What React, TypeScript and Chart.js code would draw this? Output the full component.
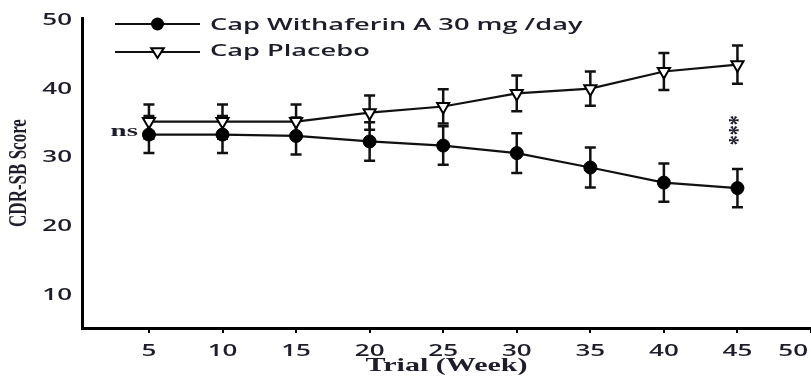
import React, { useEffect, useRef } from 'react';
import { Chart, registerables } from 'chart.js';

Chart.register(...registerables);

// ---- data ----
const weeks = [5, 10, 15, 20, 25, 30, 35, 40, 45];
const withaferin = [33.4, 33.4, 33.2, 32.4, 31.8, 30.7, 28.6, 26.4, 25.6];
const withaferinErr = [2.7, 2.7, 2.7, 2.8, 2.8, 2.9, 2.9, 2.8, 2.8];
const placebo = [35.3, 35.3, 35.3, 36.6, 37.5, 39.4, 40.1, 42.6, 43.6];
const placeboErr = [2.5, 2.5, 2.5, 2.5, 2.5, 2.6, 2.5, 2.7, 2.8];
const xTickValues = [5, 10, 15, 20, 25, 30, 35, 40, 45, 50];
const yTickValues = [10, 20, 30, 40, 50];
const seriesLabels = ['Cap Withaferin A 30 mg /day', 'Cap Placebo'];
const xTitle = 'Trial (Week)';
const yTitle = 'CDR-SB Score';
const nsLabel = 'ns';
const sigLabel = '***';

const TEXT = '#1d1d2b';
const SANS = '"Open Sans", "DejaVu Sans", sans-serif';
const SERIF = '"Liberation Serif", "DejaVu Serif", serif';
const SX = 1.62;

function drawText(
  ctx: CanvasRenderingContext2D,
  text: string,
  x: number,
  y: number,
  font: string,
  sx: number,
  align: CanvasTextAlign,
  baseline: CanvasTextBaseline = 'middle',
  rotate = 0
) {
  ctx.save();
  ctx.font = font;
  ctx.fillStyle = TEXT;
  ctx.textAlign = align;
  ctx.textBaseline = baseline;
  ctx.translate(x, y);
  ctx.scale(sx, 1);
  if (rotate) ctx.rotate(rotate);
  ctx.fillText(text, 0, 0);
  ctx.restore();
}

function drawCircle(ctx: CanvasRenderingContext2D, x: number, y: number, r: number) {
  ctx.beginPath();
  ctx.arc(x, y, r, 0, Math.PI * 2);
  ctx.fillStyle = '#000';
  ctx.fill();
}

function drawTriangleDown(ctx: CanvasRenderingContext2D, x: number, y: number, r: number) {
  ctx.beginPath();
  ctx.moveTo(x - r * 0.9, y - r * 0.55);
  ctx.lineTo(x + r * 0.9, y - r * 0.55);
  ctx.lineTo(x, y + r * 0.85);
  ctx.closePath();
  ctx.fillStyle = '#fff';
  ctx.fill();
  ctx.lineWidth = 2;
  ctx.strokeStyle = '#000';
  ctx.stroke();
}

const errorBarPlugin = {
  id: 'errorBars',
  beforeDatasetsDraw(chart: any) {
    const ctx = chart.ctx as CanvasRenderingContext2D;
    const y = chart.scales.y;
    const errs = [withaferinErr, placeboErr];
    const vals = [withaferin, placebo];
    ctx.save();
    ctx.strokeStyle = '#111';
    ctx.lineWidth = 2.5;
    chart.data.datasets.forEach((_: any, di: number) => {
      const meta = chart.getDatasetMeta(di);
      meta.data.forEach((pt: any, i: number) => {
        const top = y.getPixelForValue(vals[di][i] + errs[di][i]);
        const bot = y.getPixelForValue(vals[di][i] - errs[di][i]);
        const cap = 5.5;
        ctx.beginPath();
        ctx.moveTo(pt.x, top);
        ctx.lineTo(pt.x, bot);
        ctx.moveTo(pt.x - cap, top);
        ctx.lineTo(pt.x + cap, top);
        ctx.moveTo(pt.x - cap, bot);
        ctx.lineTo(pt.x + cap, bot);
        ctx.stroke();
      });
    });
    ctx.restore();
  },
};

const decorPlugin = {
  id: 'decor',
  afterDraw(chart: any) {
    const ctx = chart.ctx as CanvasRenderingContext2D;
    const { x, y } = chart.scales;
    const area = chart.chartArea;
    const W = chart.width;
    const tickFont = `600 16px ${SANS}`;

    // y tick labels
    yTickValues.forEach((v) => {
      drawText(ctx, String(v), area.left - 10, y.getPixelForValue(v), tickFont, SX, 'right');
    });
    // x tick labels
    ctx.save();
    ctx.font = tickFont;
    xTickValues.forEach((v) => {
      const w = ctx.measureText(String(v)).width * SX;
      const px = Math.min(x.getPixelForValue(v), W - w / 2 - 3);
      drawText(ctx, String(v), px, area.bottom + 23, tickFont, SX, 'center');
    });
    ctx.restore();

    // axis titles
    drawText(ctx, xTitle, (area.left + area.right) / 2, 371, `bold 19px ${SERIF}`, 1.58, 'center', 'alphabetic');
    drawText(ctx, yTitle, 20, (area.top + area.bottom) / 2, `bold 17px ${SERIF}`, 1.45, 'center', 'middle', -Math.PI / 2);

    // annotations
    const x5 = x.getPixelForValue(weeks[0]);
    drawText(ctx, nsLabel, x5 - 11, y.getPixelForValue(withaferin[0]) + 1, `bold 17px ${SERIF}`, 1.7, 'right', 'alphabetic');
    const last = weeks.length - 1;
    const xl = x.getPixelForValue(weeks[last]);
    const ym = (y.getPixelForValue(withaferin[last]) + y.getPixelForValue(placebo[last])) / 2 + 4;
    drawText(ctx, sigLabel, xl + 2, ym, `bold 20px ${SERIF}`, 1.3, 'center', 'middle', -Math.PI / 2);

    // legend
    const lx0 = area.left + 33;
    const lx1 = area.left + 118;
    const lmid = (lx0 + lx1) / 2;
    const rows = [24, 52];
    ctx.save();
    ctx.strokeStyle = '#111';
    ctx.lineWidth = 2;
    rows.forEach((ry) => {
      ctx.beginPath();
      ctx.moveTo(lx0, ry);
      ctx.lineTo(lx1, ry);
      ctx.stroke();
    });
    drawCircle(ctx, lmid, rows[0], 6.5);
    drawTriangleDown(ctx, lmid, rows[1], 7);
    ctx.restore();
    drawText(ctx, seriesLabels[0], lx1 + 10, rows[0] + 1, `600 17px ${SANS}`, 1.6, 'left');
    drawText(ctx, seriesLabels[1], lx1 + 10, rows[1] - 1, `600 17px ${SANS}`, 1.6, 'left');
  },
};

export default function App() {
  const ref = useRef<HTMLCanvasElement | null>(null);

  useEffect(() => {
    if (!ref.current) return;
    const chart = new Chart(ref.current, {
      type: 'line',
      data: {
        datasets: [
          {
            label: seriesLabels[0],
            data: weeks.map((w, i) => ({ x: w, y: withaferin[i] })),
            borderColor: '#111',
            borderWidth: 2.2,
            pointStyle: 'circle',
            pointRadius: 6.5,
            pointBackgroundColor: '#000',
            pointBorderColor: '#000',
            pointBorderWidth: 1,
            tension: 0,
          },
          {
            label: seriesLabels[1],
            data: weeks.map((w, i) => ({ x: w, y: placebo[i] })),
            borderColor: '#111',
            borderWidth: 2.2,
            pointStyle: 'triangle',
            pointRotation: 180,
            pointRadius: 7,
            pointBackgroundColor: '#fff',
            pointBorderColor: '#000',
            pointBorderWidth: 2,
            tension: 0,
          },
        ],
      },
      options: {
        animation: false,
        responsive: true,
        maintainAspectRatio: false,
        layout: { autoPadding: false, padding: { top: 18, left: 0, right: 0, bottom: 0 } },
        plugins: { legend: { display: false }, tooltip: { enabled: false } },
        scales: {
          x: {
            type: 'linear',
            min: 0.45,
            max: 50,
            afterBuildTicks: (s: any) => {
              s.ticks = xTickValues.map((v) => ({ value: v }));
            },
            ticks: { display: false },
            grid: { display: true, drawOnChartArea: false, drawTicks: true, tickLength: 5, color: '#000', lineWidth: 2 },
            border: { display: true, color: '#000', width: 3 },
            afterFit: (s: any) => {
              s.height = 48;
              s.paddingLeft = 0;
              s.paddingRight = 0;
            },
          },
          y: {
            type: 'linear',
            min: 5.2,
            max: 50.4,
            afterBuildTicks: (s: any) => {
              s.ticks = yTickValues.map((v) => ({ value: v }));
            },
            ticks: { display: false },
            grid: { display: false },
            border: { display: true, color: '#000', width: 3 },
            afterFit: (s: any) => {
              s.width = 82;
              s.paddingTop = 0;
              s.paddingBottom = 0;
            },
          },
        },
      } as any,
      plugins: [errorBarPlugin, decorPlugin],
    });
    return () => chart.destroy();
  }, []);

  return (
    <div style={{ position: 'fixed', left: 0, top: 0, width: 811, height: 376, background: '#fff' }}>
      <canvas ref={ref} />
    </div>
  );
}
